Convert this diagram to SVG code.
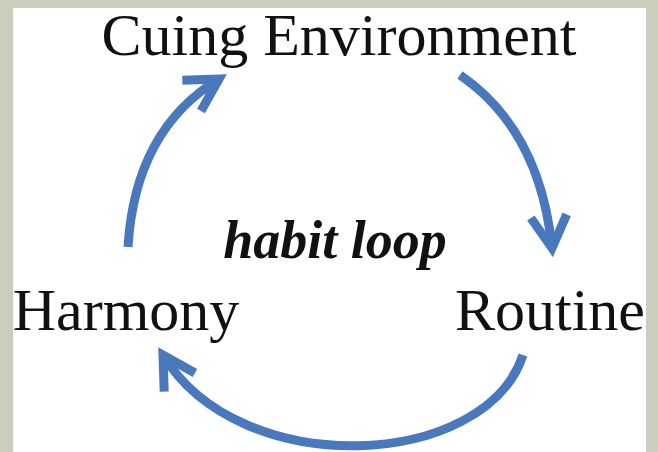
<svg xmlns="http://www.w3.org/2000/svg" width="658" height="452" viewBox="0 0 658 452">
<style>
.lbl{font-family:"Liberation Serif","Times New Roman",serif;font-size:60px;fill:#111}
.ctr{font-family:"Liberation Serif","Times New Roman",serif;font-size:54px;font-weight:bold;font-style:italic;fill:#111}
.arc{fill:none;stroke:#4a78bd;stroke-width:9;marker-end:url(#chev)}
</style>
<defs>
<marker id="chev" markerUnits="userSpaceOnUse" viewBox="-45 -30 55 60" markerWidth="55" markerHeight="60" refX="0" refY="0" orient="auto">
<path d="M-32,-18 L0,0 L-32,18" fill="none" stroke="#4a78bd" stroke-width="9" stroke-linejoin="miter" stroke-miterlimit="10"/>
</marker>
</defs>
<rect x="0" y="0" width="658" height="452" fill="#cbcdbd"/>
<rect x="13" y="8" width="633" height="444" fill="#ffffff"/>
<g id="connectors">
<path class="arc" d="M460,75 Q540,130 552,248"/>
<path class="arc" d="M523,355 C485,470 240,482 163,355"/>
<path class="arc" d="M128,247 Q135,130 219,79"/>
</g>
<g id="cuing"><text class="lbl" x="339" y="55" text-anchor="middle">Cuing Environment</text></g>
<g id="routine"><text class="lbl" x="550" y="330" text-anchor="middle">Routine</text></g>
<g id="harmony"><text class="lbl" x="126" y="330" text-anchor="middle">Harmony</text></g>
<g id="habit"><text class="ctr" x="335" y="258" text-anchor="middle">habit loop</text></g>
</svg>
